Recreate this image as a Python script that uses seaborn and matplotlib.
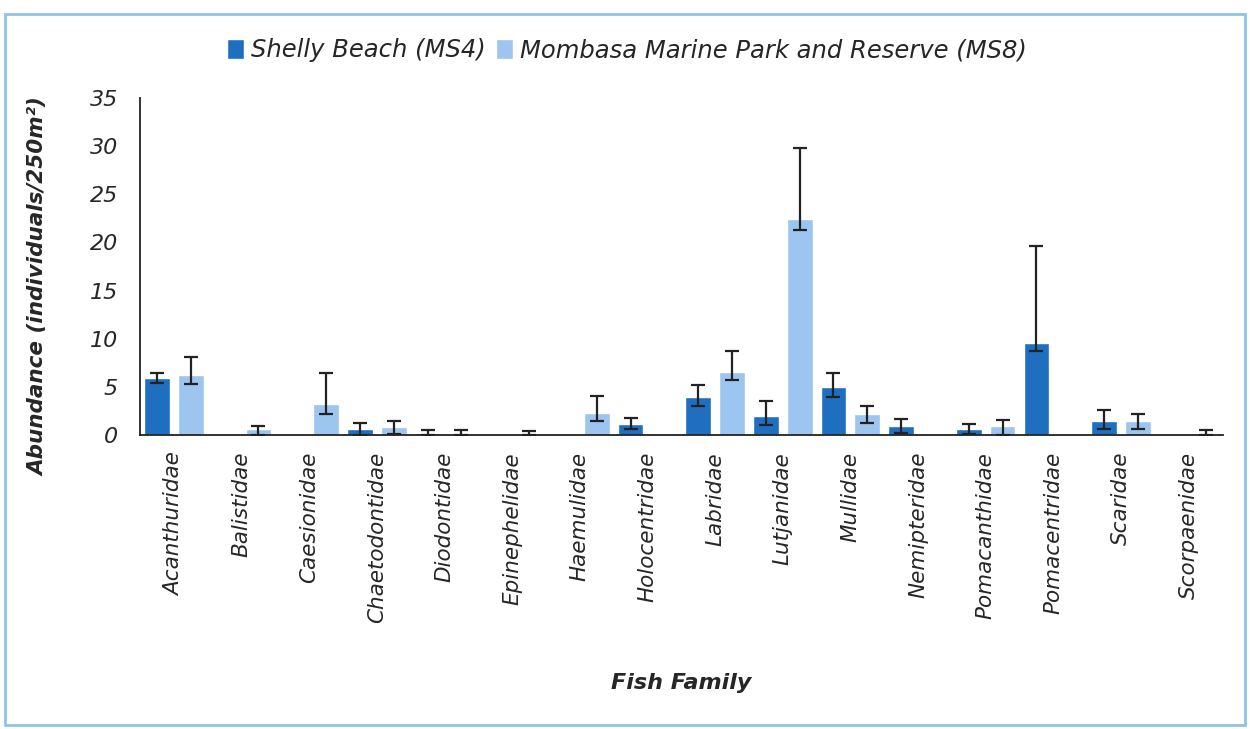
import matplotlib
matplotlib.use("Agg")
import matplotlib.pyplot as plt
import matplotlib.patches as mpatches
import pandas as pd
import numpy as np
import seaborn as sns

families = ["Acanthuridae", "Balistidae", "Caesionidae", "Chaetodontidae", "Diodontidae",
            "Epinephelidae", "Haemulidae", "Holocentridae", "Labridae", "Lutjanidae",
            "Mullidae", "Nemipteridae", "Pomacanthidae", "Pomacentridae", "Scaridae",
            "Scorpaenidae"]
sites = ["Shelly Beach (MS4)", "Mombasa Marine Park and Reserve (MS8)"]

ms4_mean = [5.9, 0, 0, 0.6, 0.25, 0, 0, 1.2, 4.0, 2.0, 5.0, 1.0, 0.6, 9.6, 1.5, 0]
ms4_lo = [0.5, 0, 0, 0.6, 0.25, 0, 0, 0.6, 1.0, 0.9, 1.0, 0.8, 0.5, 0.9, 0.9, 0]
ms4_hi = [0.6, 0, 0, 0.65, 0.25, 0, 0, 0.55, 1.2, 1.5, 1.5, 0.7, 0.6, 10.0, 1.1, 0]

ms8_mean = [6.2, 0.6, 3.2, 0.85, 0.15, 0.1, 2.35, 0, 6.6, 22.4, 2.2, 0, 0.95, 0, 1.5, 0.15]
ms8_lo = [0.9, 0.6, 0.95, 0.75, 0.15, 0.1, 0.85, 0, 0.9, 1.1, 0.9, 0, 0.95, 0, 0.9, 0.15]
ms8_hi = [1.9, 0.4, 3.3, 0.65, 0.35, 0.35, 1.75, 0, 2.1, 7.4, 0.8, 0, 0.65, 0, 0.7, 0.35]

df = pd.DataFrame({
    "family": families * 2,
    "site": [sites[0]] * len(families) + [sites[1]] * len(families),
    "mean": ms4_mean + ms8_mean,
})

sns.set_style("white")
plt.rcParams["font.family"] = ["DejaVu Sans"]

fig, ax = plt.subplots(figsize=(12.5, 7.29), dpi=100)
fig.subplots_adjust(left=0.112, right=0.978, top=0.866, bottom=0.403)

sns.barplot(data=df, x="family", y="mean", hue="site", palette=["#1f6fc1", "#9cc5ef"],
            width=1.0, gap=0.24, errorbar=None, saturation=1, ax=ax)

# custom error bars from the read values
for cont, lo, hi in zip(ax.containers, [ms4_lo, ms8_lo], [ms4_hi, ms8_hi]):
    for bar, l, h in zip(cont, lo, hi):
        if l == 0 and h == 0:
            continue
        xc = bar.get_x() + bar.get_width() / 2
        ax.errorbar(xc, bar.get_height(), yerr=[[l], [h]], fmt="none", ecolor="#222222",
                    elinewidth=1.6, capsize=5, capthick=1.6)

ax.set_ylim(0, 35)
ax.set_xlim(-0.5, 15.5)
ax.set_yticks(range(0, 36, 5))
ax.tick_params(axis="y", labelsize=16, length=0, pad=16)
ax.tick_params(axis="x", labelsize=15.5, length=0, pad=12)
for lbl in ax.get_yticklabels():
    lbl.set_style("italic")
plt.setp(ax.get_xticklabels(), rotation=90, style="italic")

ax.set_xlabel("Fish Family", fontsize=16, fontweight="bold", style="italic", labelpad=36)
ax.set_ylabel("Abundance (individuals/250m²)", fontsize=15.5, fontweight="bold",
              style="italic", labelpad=22)
ax.yaxis.set_label_coords(-0.085, 0.44)

sns.despine(ax=ax)
ax.spines["left"].set_color("#222222")
ax.spines["bottom"].set_color("#222222")
ax.spines["left"].set_linewidth(1.3)
ax.spines["bottom"].set_linewidth(1.3)

leg = ax.legend(loc="lower center", bbox_to_anchor=(0.45, 1.04), ncol=2, frameon=False,
                handlelength=0.7, handleheight=0.9, handletextpad=0.3, columnspacing=0.4,
                prop={"size": 17.5, "style": "italic"})

# light blue frame around the chart area
fig.patches.append(mpatches.Rectangle((0.004, 0.006), 0.992, 0.975, transform=fig.transFigure,
                                      fill=False, edgecolor="#8cc6e6", linewidth=2))

fig.savefig("out.png", dpi=100)
